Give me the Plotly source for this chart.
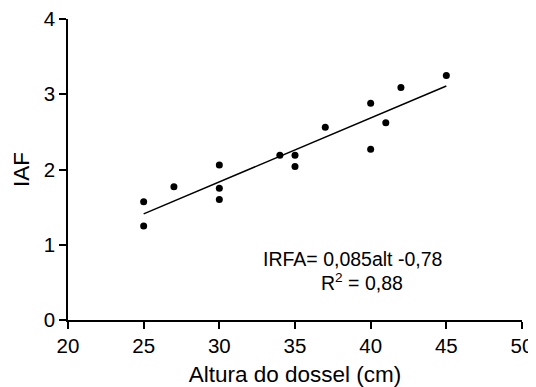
import plotly.graph_objects as go

altura = [25, 25, 27, 30, 30, 30, 34, 35, 35, 37, 40, 40, 41, 42, 45]
iaf = [1.57, 1.25, 1.77, 2.06, 1.75, 1.60, 2.19, 2.19, 2.04, 2.56, 2.88, 2.27, 2.62, 3.09, 3.25]

fit_x = [25, 45]
fit_y = [1.41, 3.11]

x_ticks = [20, 25, 30, 35, 40, 45, 50]
y_ticks = [0, 1, 2, 3, 4]

FONT = "Liberation Sans, Arial, sans-serif"

fig = go.Figure()
fig.add_trace(go.Scatter(x=fit_x, y=fit_y, mode="lines",
                         line=dict(color="black", width=1.5), showlegend=False))
fig.add_trace(go.Scatter(x=altura, y=iaf, mode="markers",
                         marker=dict(color="black", size=7), showlegend=False))

fig.add_annotation(x=38.77, y=0.81, xref="x", yref="y", text="IRFA= 0,085alt -0,78",
                   showarrow=False, font=dict(family=FONT, size=19.5, color="black"))
fig.add_annotation(x=39.4, y=0.50, xref="x", yref="y", text="R<sup>2</sup> = 0,88",
                   showarrow=False, font=dict(family=FONT, size=19.5, color="black"))

# page body has an 8px margin, so the figure is sized/offset to compensate
fig.update_layout(
    width=528, height=379,
    margin=dict(l=60, r=14, t=11, b=67),
    plot_bgcolor="white", paper_bgcolor="white",
    font=dict(family=FONT, color="black"),
)
fig.update_xaxes(range=[20, 50], tickvals=x_ticks, showgrid=False, zeroline=False,
                 automargin=False, ticklabeloverflow="allow",
                 showline=True, linecolor="black", linewidth=1.7,
                 ticks="outside", ticklen=7, tickwidth=1.5, tickcolor="black",
                 tickfont=dict(size=20.5), title=dict(text="Altura do dossel (cm)",
                 font=dict(size=22.5), standoff=12))
fig.update_yaxes(range=[0, 4], tickvals=y_ticks, showgrid=False, zeroline=False,
                 automargin=False, ticklabeloverflow="allow",
                 showline=True, linecolor="black", linewidth=1.7,
                 ticks="outside", ticklen=7, tickwidth=1.5, tickcolor="black",
                 tickfont=dict(size=20.5), title=dict(text="IAF",
                 font=dict(size=22.5), standoff=8))

fig.write_html("out.html")
